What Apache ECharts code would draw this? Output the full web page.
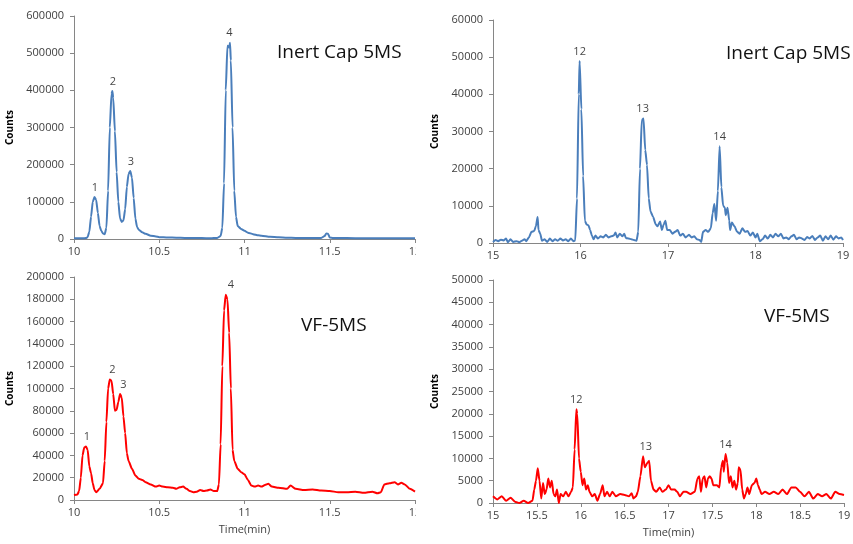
<!DOCTYPE html>
<html>
<head>
<meta charset="utf-8">
<script src="https://cdn.jsdelivr.net/npm/echarts@6/dist/echarts.min.js"></script>
<style>
  html, body { margin: 0; padding: 0; background: #fff; }
  #page { position: relative; width: 853px; height: 544px; overflow: hidden; }
  .panel { position: absolute; }
</style>
</head>
<body>
<div id="page">
  <div class="panel" id="capEarly" style="left:0;top:0;width:416px;height:262px"></div>
  <div class="panel" id="capLate" style="left:425px;top:0;width:428px;height:262px"></div>
  <div class="panel" id="vfEarly" style="left:0;top:262px;width:416px;height:282px"></div>
  <div class="panel" id="vfLate" style="left:425px;top:262px;width:428px;height:282px"></div>
</div>
<script>
// Inert Cap 5MS, 10-12 min
const capEarlyTime = [10.00, 10.05, 10.07, 10.08, 10.09, 10.10, 10.11, 10.12, 10.13, 10.14, 10.15, 10.16, 10.17, 10.18, 10.19,
  10.20, 10.21, 10.22, 10.225, 10.23, 10.24, 10.25, 10.26, 10.27, 10.28, 10.29, 10.30, 10.31, 10.32, 10.33, 10.34, 10.35,
  10.36, 10.37, 10.38, 10.40, 10.42, 10.45, 10.48, 10.50, 10.55, 10.60, 10.65, 10.70, 10.75, 10.80, 10.84, 10.86, 10.87,
  10.88, 10.89, 10.90, 10.91, 10.915, 10.92, 10.93, 10.94, 10.95, 10.96, 10.98, 11.00, 11.02, 11.05, 11.08, 11.10, 11.15,
  11.20, 11.25, 11.30, 11.35, 11.40, 11.45, 11.47, 11.48, 11.49, 11.50, 11.52, 11.60, 11.70, 11.80, 11.90, 12.00];
const capEarlyCounts = [2000, 2000, 2500, 5000, 20000, 60000, 100000, 113000, 105000, 70000, 35000, 22000, 15000, 13000, 30000,
  130000, 300000, 390000, 398000, 380000, 290000, 180000, 100000, 55000, 46000, 50000, 80000, 140000, 175000, 183000, 165000, 110000,
  55000, 32000, 25000, 18000, 14000, 9000, 7000, 5000, 4000, 3500, 3000, 2500, 2500, 2000, 3000, 8000, 30000,
  150000, 400000, 520000, 515000, 528000, 480000, 300000, 130000, 60000, 35000, 27000, 22000, 17000, 13000, 10000, 9000, 6000,
  4500, 3500, 3000, 3000, 2500, 3000, 8000, 15000, 14000, 4000, 2500, 2500, 2000, 2000, 2000, 2000];
const capEarlyPeaks = [[10.123, 113000, '1'], [10.228, 398000, '2'], [10.333, 183000, '3'], [10.911, 528000, '4']];

// Inert Cap 5MS, 15-19 min
const capLateTime = [15.00, 15.03, 15.06, 15.09, 15.12, 15.15, 15.17, 15.20, 15.23, 15.27, 15.30, 15.33, 15.36, 15.38, 15.41,
  15.44, 15.47, 15.49, 15.51, 15.52, 15.54, 15.56, 15.59, 15.62, 15.65, 15.68, 15.71, 15.74, 15.77, 15.80, 15.83, 15.86,
  15.89, 15.92, 15.94, 15.96, 15.98, 15.99, 16.01, 16.03, 16.05, 16.07, 16.09, 16.11, 16.13, 16.15, 16.17, 16.20, 16.23,
  16.26, 16.29, 16.32, 16.35, 16.38, 16.40, 16.42, 16.45, 16.48, 16.50, 16.52, 16.55, 16.58, 16.61, 16.64, 16.66, 16.68,
  16.70, 16.72, 16.74, 16.76, 16.78, 16.80, 16.83, 16.86, 16.88, 16.91, 16.93, 16.95, 16.97, 16.99, 17.02, 17.05, 17.08,
  17.11, 17.14, 17.17, 17.20, 17.24, 17.27, 17.30, 17.33, 17.36, 17.38, 17.40, 17.43, 17.46, 17.49, 17.51, 17.53, 17.55,
  17.57, 17.59, 17.61, 17.63, 17.65, 17.66, 17.68, 17.70, 17.71, 17.73, 17.76, 17.79, 17.82, 17.85, 17.88, 17.91, 17.94,
  17.97, 18.00, 18.02, 18.05, 18.08, 18.11, 18.14, 18.17, 18.20, 18.23, 18.26, 18.29, 18.32, 18.35, 18.38, 18.41, 18.44,
  18.47, 18.50, 18.53, 18.56, 18.59, 18.62, 18.65, 18.68, 18.71, 18.74, 18.77, 18.80, 18.83, 18.86, 18.89, 18.92, 18.95,
  18.98, 19.00];
const capLateCounts = [300, 800, 500, 900, 700, 1200, 200, 1000, 300, 500, 200, 600, 1000, 500, 1500,
  3000, 3200, 4500, 7000, 3500, 2500, 600, 1000, 300, 1200, 500, 1000, 600, 1200, 700, 1000, 500,
  1200, 500, 700, 12000, 40000, 49000, 36000, 18000, 6000, 5000, 4800, 3500, 2000, 1000, 2000, 1200, 1800,
  1500, 2200, 1500, 1800, 2000, 2800, 1500, 2500, 1800, 2500, 1300, 1200, 1000, 800, 600, 3000, 20000,
  33000, 33500, 25000, 21000, 12000, 8500, 7000, 5000, 4500, 5800, 3500, 5000, 6000, 3500, 3500, 2500, 3000,
  3500, 2000, 2500, 1500, 2200, 1500, 1800, 1000, 800, 300, 3000, 3500, 3000, 4000, 8000, 10500, 6000,
  14000, 26000, 15000, 10000, 9500, 7500, 9500, 6000, 3500, 5500, 4500, 3000, 2500, 4000, 3000, 3200, 2000,
  2800, 1500, 2500, 500, 1000, 2000, 1200, 2200, 1500, 2500, 1800, 2500, 1200, 1500, 1000, 1800, 2200,
  1000, 1500, 1200, 800, 1600, 1200, 1900, 800, 1500, 2000, 600, 1800, 1000, 2000, 900, 1800, 1200,
  1500, 800];
const capLatePeaks = [[15.99, 49000, '12'], [16.71, 33500, '13'], [17.59, 26000, '14']];

// VF-5MS, 10-12 min
const vfEarlyTime = [10.00, 10.02, 10.03, 10.04, 10.05, 10.06, 10.07, 10.08, 10.09, 10.10, 10.11, 10.12, 10.13, 10.15, 10.17,
  10.18, 10.19, 10.20, 10.21, 10.22, 10.23, 10.24, 10.25, 10.26, 10.27, 10.28, 10.29, 10.30, 10.31, 10.32, 10.34, 10.36,
  10.38, 10.40, 10.42, 10.45, 10.48, 10.50, 10.52, 10.55, 10.58, 10.60, 10.62, 10.64, 10.66, 10.68, 10.70, 10.72, 10.74,
  10.76, 10.78, 10.80, 10.82, 10.84, 10.85, 10.86, 10.87, 10.88, 10.89, 10.90, 10.91, 10.92, 10.93, 10.94, 10.96, 10.98,
  11.00, 11.02, 11.04, 11.06, 11.08, 11.10, 11.12, 11.14, 11.16, 11.20, 11.25, 11.27, 11.30, 11.35, 11.40, 11.45, 11.50,
  11.55, 11.60, 11.65, 11.70, 11.75, 11.78, 11.80, 11.82, 11.85, 11.88, 11.90, 11.92, 11.94, 11.97, 12.00];
const vfEarlyCounts = [4500, 5000, 8000, 20000, 40000, 47000, 48000, 45000, 30000, 24000, 15000, 9000, 7000, 10000, 15000,
  35000, 70000, 100000, 108000, 107000, 95000, 80000, 81000, 88000, 95000, 92000, 75000, 60000, 42000, 35000, 28000, 22000,
  19000, 18000, 16000, 14000, 12000, 13000, 12000, 11500, 11000, 10000, 11500, 12000, 10000, 8000, 7000, 7500, 9000,
  8000, 8500, 9500, 8000, 8000, 14000, 50000, 120000, 170000, 184000, 180000, 150000, 100000, 45000, 35000, 28000, 25000,
  23000, 18000, 13000, 12000, 13000, 12000, 13500, 14500, 12000, 11000, 10000, 13000, 10000, 9000, 9500, 8500, 8000,
  7000, 7000, 7500, 6500, 7500, 6000, 7000, 14000, 15000, 16000, 14000, 15500, 14000, 10000, 7500];
const vfEarlyPeaks = [[10.076, 48000, '1'], [10.225, 108000, '2'], [10.29, 95000, '3'], [10.92, 184000, '4']];

// VF-5MS, 15-19 min
const vfLateTime = [15.00, 15.05, 15.10, 15.15, 15.20, 15.25, 15.30, 15.35, 15.40, 15.45, 15.47, 15.49, 15.51, 15.53, 15.55,
  15.57, 15.59, 15.61, 15.63, 15.65, 15.67, 15.69, 15.71, 15.73, 15.75, 15.77, 15.80, 15.83, 15.86, 15.89, 15.91, 15.93,
  15.95, 15.96, 15.98, 16.00, 16.02, 16.04, 16.06, 16.08, 16.10, 16.13, 16.16, 16.19, 16.22, 16.25, 16.27, 16.30, 16.33,
  16.36, 16.40, 16.45, 16.50, 16.55, 16.58, 16.60, 16.63, 16.65, 16.68, 16.71, 16.73, 16.76, 16.78, 16.80, 16.83, 16.86,
  16.90, 16.93, 16.97, 17.00, 17.03, 17.07, 17.10, 17.13, 17.17, 17.20, 17.25, 17.30, 17.33, 17.35, 17.37, 17.39, 17.41,
  17.43, 17.45, 17.47, 17.49, 17.51, 17.55, 17.58, 17.60, 17.62, 17.63, 17.65, 17.67, 17.69, 17.71, 17.73, 17.75, 17.77,
  17.79, 17.80, 17.82, 17.84, 17.86, 17.88, 17.90, 17.92, 17.95, 17.98, 18.00, 18.02, 18.04, 18.06, 18.10, 18.15, 18.20,
  18.25, 18.30, 18.35, 18.40, 18.45, 18.50, 18.55, 18.60, 18.65, 18.70, 18.75, 18.80, 18.85, 18.90, 18.95, 19.00];
const vfLateCounts = [1500, 800, 1500, 500, 1200, 300, 0, 500, 0, 500, 3000, 5000, 7800, 5000, 1000,
  4500, 2000, 3000, 5500, 3500, 5000, 2000, 1500, 3000, 0, 2000, 1500, 2500, 1500, 2500, 3500, 12000,
  21000, 20000, 10000, 7000, 4000, 5500, 3000, 4000, 2500, 1500, 2000, 500, 2000, 4000, 1500, 2500, 1500,
  2500, 1500, 2000, 1800, 1500, 2200, 1000, 1500, 2500, 6000, 10500, 8000, 9000, 9500, 5000, 3000, 2500,
  3500, 2500, 3000, 4000, 3000, 3000, 2500, 1500, 2500, 2500, 2000, 2500, 5500, 6000, 2500, 5500, 6000,
  3500, 5500, 6000, 5500, 4000, 4000, 3500, 8000, 9500, 7000, 11000, 9000, 4500, 6000, 3500, 5000, 3000,
  4500, 8000, 7500, 3000, 1000, 2000, 3500, 2000, 4000, 4500, 5500, 4000, 3000, 2000, 2500, 2000, 2500,
  2000, 3000, 2000, 3500, 3500, 2500, 1500, 2500, 1000, 2000, 1500, 2000, 1000, 2500, 2000, 1800];
const vfLatePeaks = [[15.95, 21000, '12'], [16.74, 10500, '13'], [17.65, 11000, '14']];

const AXIS_GREY = '#868686';
const TEXT_GREY = '#404040';

function pairs(xs, ys) {
  return xs.map((x, i) => [x, ys[i]]);
}

function drawPanel(id, cfg) {
  const chart = echarts.init(document.getElementById(id), null, { renderer: 'canvas' });
  const option = {
    animation: false,
    title: {
      text: cfg.title,
      left: cfg.titleLeft,
      top: cfg.titleTop,
      textStyle: { fontFamily: 'Open Sans', fontSize: 19, fontWeight: 'normal', color: '#111' }
    },
    grid: Object.assign({ outerBoundsMode: 'none', containLabel: false }, cfg.grid),
    xAxis: {
      type: 'value',
      min: cfg.xMin,
      max: cfg.xMax,
      interval: cfg.xStep,
      name: cfg.xName || '',
      nameLocation: 'middle',
      nameGap: 24,
      nameMoveOverlap: false,
      nameTextStyle: { fontFamily: 'Open Sans', fontSize: 11, color: TEXT_GREY },
      axisLine: { show: true, lineStyle: { color: AXIS_GREY, width: 1 } },
      axisTick: { show: true, length: 4, lineStyle: { color: AXIS_GREY } },
      axisLabel: { fontFamily: 'Open Sans', fontSize: 11, color: TEXT_GREY, margin: 7, hideOverlap: false },
      splitLine: { show: false }
    },
    yAxis: {
      type: 'value',
      min: 0,
      max: cfg.yMax,
      interval: cfg.yStep,
      name: 'Counts',
      nameLocation: 'middle',
      nameRotate: 90,
      nameGap: cfg.nameGap,
      nameMoveOverlap: false,
      nameTextStyle: { fontFamily: 'Open Sans', fontSize: 10, fontWeight: 'bold', color: '#000' },
      axisLine: { show: true, lineStyle: { color: AXIS_GREY, width: 1 } },
      axisTick: { show: true, length: 4, lineStyle: { color: AXIS_GREY } },
      axisLabel: {
        fontFamily: 'Open Sans', fontSize: 11, color: TEXT_GREY, margin: 10,
        formatter: v => String(v)
      },
      splitLine: { show: false }
    },
    series: [
      {
        type: 'line',
        data: pairs(cfg.time, cfg.counts),
        showSymbol: false,
        smooth: 0.2,
        smoothMonotone: 'x',
        lineStyle: { color: cfg.color, width: 2 },
        itemStyle: { color: cfg.color }
      },
      {
        type: 'scatter',
        symbolSize: 0,
        data: cfg.peaks.map(p => ({ value: [p[0], p[1]], name: p[2] })),
        label: {
          show: true,
          position: 'top',
          distance: 4,
          formatter: p => p.name,
          fontFamily: 'Open Sans',
          fontSize: 11,
          color: '#111'
        }
      }
    ]
  };
  chart.setOption(option);
  return chart;
}

drawPanel('capEarly', {
  title: 'Inert Cap 5MS', titleLeft: 272, titleTop: 38,
  grid: { left: 74, right: 1, top: 16, bottom: 23 },
  xMin: 10, xMax: 12, xStep: 0.5, yMax: 600000, yStep: 100000, nameGap: 59,
  time: capEarlyTime, counts: capEarlyCounts, peaks: capEarlyPeaks, color: '#4A7EBB'
});
drawPanel('capLate', {
  title: 'Inert Cap 5MS', titleLeft: 296, titleTop: 39,
  grid: { left: 68, right: 10, top: 20, bottom: 19 },
  xMin: 15, xMax: 19, xStep: 1, yMax: 60000, yStep: 10000, nameGap: 53,
  time: capLateTime, counts: capLateCounts, peaks: capLatePeaks, color: '#4A7EBB'
});
drawPanel('vfEarly', {
  title: 'VF-5MS', titleLeft: 296, titleTop: 49,
  grid: { left: 74, right: 1, top: 15, bottom: 44 },
  xMin: 10, xMax: 12, xStep: 0.5, yMax: 200000, yStep: 20000, nameGap: 59,
  xName: 'Time(min)',
  time: vfEarlyTime, counts: vfEarlyCounts, peaks: vfEarlyPeaks, color: '#FF0000'
});
drawPanel('vfLate', {
  title: 'VF-5MS', titleLeft: 334, titleTop: 40,
  grid: { left: 68, right: 9, top: 18, bottom: 41 },
  xMin: 15, xMax: 19, xStep: 0.5, yMax: 50000, yStep: 5000, nameGap: 53,
  xName: 'Time(min)',
  time: vfLateTime, counts: vfLateCounts, peaks: vfLatePeaks, color: '#FF0000'
});
</script>
</body>
</html>
